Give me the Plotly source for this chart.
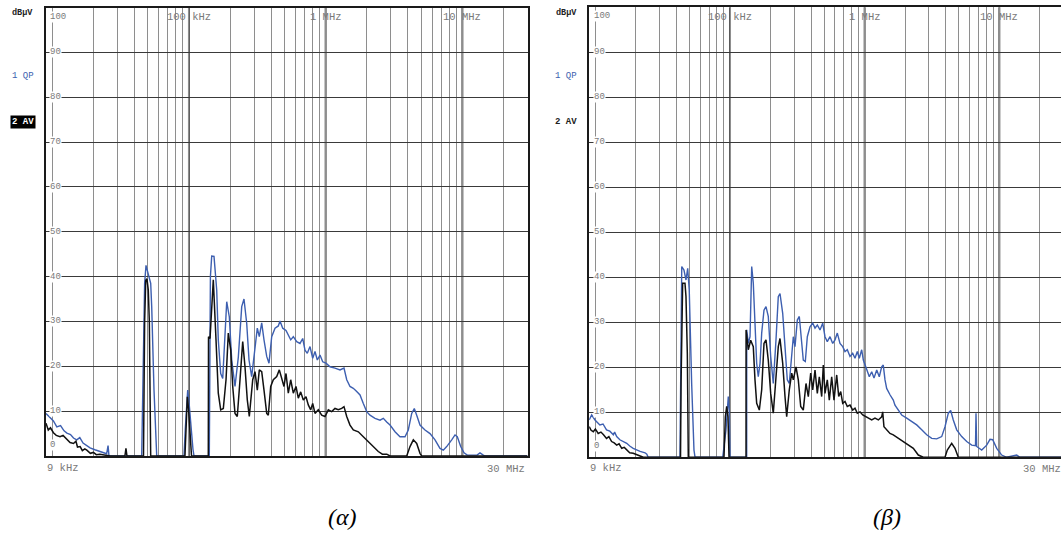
import math
import plotly.graph_objects as go

W, H = 1061, 533

# ---------------- data (frequency in kHz, level in dBuV) ----------------
qp_a_khz = [9.0, 9.3, 9.63, 10.2, 10.8, 11.5, 12.2, 12.8, 13.6, 14.3, 15.1, 15.9, 16.8, 17.8, 18.9, 20.5,
            22.3, 23.6, 25.0, 25.6, 26.0, 45.1, 46.3, 47.4, 48.5, 50.4, 52.5, 53.4, 55.5, 58.1,
            92.0, 94.0, 96.3, 97.9, 100.1, 103.5, 107.0, 108.9,
            140.9, 143.5, 146.7, 152.5, 159.6, 163.9, 170.7, 176.6, 183.5, 188.9, 197.4, 205.5, 217.2,
            229.6, 243.2, 252.7, 264.5, 275.0, 287.7, 304.2, 316.2, 327.1, 340.6, 354.0, 370.5, 385.1,
            403.0, 426.1, 450.5, 463.5, 485.1, 512.7, 533.0, 555.0, 579.9, 614.0, 649.2, 679.3, 706.1,
            734.0, 768.2, 804.0, 835.7, 868.7, 909.1, 951.3, 1006, 1076, 1170, 1273, 1362, 1426, 1507,
            1593, 1687, 1784, 1886, 1996, 2110, 2296, 2498, 2641, 2796, 2957, 3217, 3498, 3806, 4023,
            4261, 4451, 4635, 4900, 5331, 5799, 6310, 6862, 7255, 7682, 8357, 8836, 9183, 9726, 10283,
            10870, 12800, 13460, 14230, 14640, 30000]
qp_a_db = [9.5, 9.0, 8.5, 7.8, 6.5, 6.8, 5.6, 5.1, 4.8, 4.0, 3.6, 4.1, 2.9, 2.4, 1.8, 1.4,
           1.0, 0.7, 0.5, 2.3, 0, 0, 20, 38.5, 42.5, 40.8, 38.5, 33.3, 14.7, 0,
           0, 6, 13.5, 14.7, 12, 6, 1.5, 0,
           0, 40, 44.6, 44.5, 37, 25.9, 18.4, 17.3, 27.4, 34.4, 31, 21.4, 15.5,
           22, 33.3, 35, 29.6, 21.4, 17.7, 23.6, 28.5, 26.6, 29.7, 25.9, 22.2, 20.7,
           26.6, 28.5, 29, 30.1, 28.5, 28, 27, 25.9, 26.6, 25.5, 25.1, 26.2, 23.6,
           22.9, 24.4, 21.8, 23.3, 21.4, 22.5, 21, 20.7, 19.9, 19.6, 19.2, 19.6, 17, 15.5,
           15.1, 14.4, 13.6, 11.7, 9.9, 9.1, 8.4, 8.0, 8.4, 7.6, 6.9, 5.4, 4.3, 4.3, 5.8,
           9.5, 10.6, 9.1, 6.9, 5.8, 5.0, 3.6, 1.7, 1.3, 2.1, 3.6, 4.7, 4.3, 2.1, 0.7,
           0.2, 0.2, 0.7, 0.2, 0, 0]

av_a_khz = [9.0, 9.2, 9.35, 9.7, 10.2, 10.7, 11.4, 12.0, 12.8, 13.5, 14.3, 14.9, 15.3, 16.0, 16.6, 17.3,
            17.9, 19.0, 20.0, 21.0, 22.3, 25.0, 26.5, 34.0, 34.6, 35.2,
            46.5, 47.4, 48.3, 49.3, 50.4, 51.3, 52.0, 52.5,
            93.5, 95.6, 97.3, 99.3, 101.8, 104.4,
            138.5, 139.0, 142.6, 146.7, 150.7, 157.7, 163.9, 170.7, 178.4, 186.7, 194.0, 202.1, 209.0,
            217.2, 225.7, 236.3, 247.3, 257.0, 267.2, 276.4, 292.7, 304.2, 316.2, 327.1, 340.6, 354.0,
            370.5, 380.6, 396.4, 414.1, 438.5, 458.1, 477.1, 495.7, 512.7, 533.0, 555.0, 579.9, 606.8,
            630.9, 656.8, 686.2, 718.2, 746.5, 777.3, 804.0, 835.7, 883.5, 935.3, 989.0, 1046, 1107,
            1170, 1238, 1310, 1362, 1426, 1507, 1593, 1734, 1886, 2051, 2231, 2427, 2600, 2800, 2957,
            3917, 4141, 4378, 4635, 4900, 5043, 30000]
av_a_db = [7.3, 6.2, 5.8, 6.3, 5.2, 4.6, 4.3, 4.6, 3.6, 3.0, 2.8, 3.3, 2.0, 2.1, 1.2, 1.6,
           1.3, 0.6, 0.8, 0.3, 0.4, 0.2, 0, 0, 1.7, 0,
           0, 30, 39.2, 39.5, 37, 30, 10, 0,
           0, 9, 13.2, 10.5, 4, 0,
           0, 26.6, 26.2, 33.3, 39.3, 25.9, 14, 10.3, 10.6, 17, 27.4, 23.6, 15.5,
           9.5, 8.8, 17, 25.5, 19.9, 12.5, 8.8, 17, 18.8, 14.7, 19.2, 18.8, 14.7,
           9.5, 9.1, 15.5, 17, 17.7, 19.2, 17, 15.5, 18.4, 14, 17, 14, 15.5,
           12.9, 14.3, 12.5, 13.2, 11.4, 10.3, 11.7, 9.5, 10.3, 9.1, 8.8, 10.3, 9.9,
           10.6, 10.3, 10.6, 11, 8.8, 6.9, 5.8, 5.4, 4.3, 3.2, 2.1, 1.0, 0.4, 0.4, 0,
           0, 2.1, 3.6, 2.8, 0.6, 0, 0]

qp_b_khz = [9.0, 9.39, 9.94, 10.8, 11.4, 12.1, 12.8, 13.6, 13.9, 14.4, 15.2, 16.0, 17.1, 18.0, 19.1, 21.5,
            23.4, 24.1, 24.7, 42.5, 43.3, 43.8, 45.5, 47.1, 48.5, 49.8, 51.9, 54.0, 55.0,
            88.3, 93.3, 97.1, 98.8, 100.0,
            133.0, 133.1, 136.7, 140.8, 144.9, 148.9, 153.3, 157.8, 162.2, 167.1, 171.9, 178.8, 185.0,
            192.4, 200.5, 209.6, 219.5, 228.3, 235.1, 246.2, 256.1, 266.3, 275.6, 287.2, 295.2, 303.9,
            316.1, 327.1, 340.8, 350.1, 362.4, 375.1, 392.8, 411.3, 427.8, 445.0, 465.9, 488.0, 507.5,
            527.9, 552.9, 579.0, 602.2, 626.4, 655.9, 687.0, 714.6, 743.1, 778.2, 815.0, 847.7, 881.7,
            912.6, 950.4, 977.4, 1006, 1036, 1083, 1128, 1173, 1229, 1284, 1338, 1375, 1416, 1457, 1542,
            1632, 1679, 1747, 1884, 2052, 2237, 2435, 2653, 2890, 3147, 3428, 3734, 3951, 4181, 4355,
            4552, 4826, 5256, 5727, 6237, 6656, 6712, 6793, 7400, 8060, 8528, 8932, 9568, 10420, 11350,
            13460, 14240, 30000]
qp_b_db = [8.3, 9.4, 8.3, 7.2, 7.4, 6.1, 5.8, 5.0, 5.6, 4.6, 3.9, 3.6, 3.1, 2.5, 2.0, 1.3,
           1.0, 0.7, 0, 0, 30, 42.4, 41.6, 39.4, 42, 37.2, 16.4, 1.6, 0,
           0, 6, 13.5, 10, 0,
           0, 28.3, 25.3, 26.8, 42.4, 38.7, 29.8, 20.9, 17.9, 20.9, 27.6, 32.7, 33.5,
           31.3, 22.4, 16.4, 26.1, 35.7, 36.4, 32, 24.6, 17.2, 16.4, 23.1, 26.8, 24.6,
           30.5, 31.3, 26.1, 21.6, 21.3, 26.8, 29, 29.8, 28.7, 29.4, 28.3, 29.8, 26.8,
           25.7, 26.8, 25.3, 26.1, 27.6, 25.3, 24.6, 23.5, 23.9, 22.4, 23.1, 22, 23.5,
           22, 23.9, 21.6, 20.5, 19.4, 17.9, 19, 17.6, 19.4, 17.9, 20.1, 20.5, 17.2, 15.3, 13.9,
           12.7, 11.6, 10.9, 9.4, 8.7, 7.9, 7.2, 6.1, 5.0, 4.2, 4.1, 4.6, 6.8, 9.8, 10.4,
           8.3, 6.1, 4.6, 3.5, 2.7, 2.6, 9.8, 2.4, 1.6, 2.7, 4.0, 3.9, 2.0, 0.5, 0,
           0.5, 0, 0]

av_b_khz = [9.0, 9.3, 9.65, 10.0, 10.5, 11.0, 11.5, 12.1, 12.6, 13.2, 13.8, 14.4, 15.0, 15.7, 16.4, 17.1,
            18.0, 19.1, 20.3, 21.5, 22.7, 42.9, 43.3, 44.5, 46.3, 47.1, 48.2, 49.0,
            90.2, 92.3, 94.5, 96.6, 98.3,
            131.5, 131.6, 136.7, 142.4, 148.9, 153.3, 157.8, 165.1, 171.9, 178.8, 185.0, 192.4, 200.5,
            209.6, 219.5, 228.3, 235.1, 246.2, 256.1, 263.6, 275.6, 287.2, 295.2, 309.1, 321.5, 335.0,
            350.1, 366.7, 381.5, 397.4, 411.3, 427.8, 445.0, 460.4, 479.7, 493.0, 507.5, 527.9, 546.2,
            569.0, 591.9, 619.9, 641.6, 663.9, 687.0, 714.6, 743.1, 778.2, 815.0, 847.7, 881.7, 923.5,
            967.5, 1006, 1064, 1128, 1193, 1263, 1338, 1361, 1391, 1457, 1542, 1632, 1778, 1936, 2110,
            2298, 2502, 2726, 3951, 4108, 4429, 4686, 4959, 30000]
av_b_db = [6.8, 6.0, 5.7, 6.3, 5.3, 5.6, 5.0, 4.2, 4.6, 3.5, 3.2, 2.7, 3.0, 2.0, 2.2, 1.6,
           1.0, 0.9, 0.5, 0.3, 0, 0, 16.4, 38.7, 38.7, 35.7, 23, 0,
           0, 9, 11.3, 9, 0,
           0, 28.3, 23.9, 26, 24.6, 17.2, 12, 10.5, 15, 25.3, 26.1, 21.6, 14.2,
           9.8, 17.2, 24.6, 26.4, 20.9, 13.5, 9, 15, 18.7, 17.2, 20.1, 17.2, 11.3,
           10.5, 16.4, 13.5, 18.7, 15, 19.4, 14.2, 17.9, 13.5, 20.5, 14.2, 17.2, 12.7,
           17.9, 12.7, 18.3, 13.5, 14.6, 12, 12.4, 11.3, 11.6, 10.5, 10.9, 9.8, 10.1,
           9.4, 9.1, 8.7, 8.3, 8.7, 8.3, 9.0, 10.1, 6.8, 6.1, 5.3, 5.0, 4.2, 3.5, 2.7,
           2.0, 0.5, 0, 0, 1.6, 3.1, 2.0, 0, 0]

y_ticks = [0, 10, 20, 30, 40, 50, 60, 70, 80, 90, 100]
y_tick_text = ["0", "10", "20", "30", "40", "50", "60", "70", "80", "90", "100"]
decade_khz = [100, 1000, 10000]
decade_text = ["100 kHz", "1 MHz", "10 MHz"]
f_start_khz, f_stop_khz = 9, 30000
trace_labels = ["1 QP", "2 AV"]
captions = ["(α)", "(β)"]

# ---------------- styling / layout ----------------
BLUE = "#3d5fb0"
BLACK = "#111111"
GRIDX = "#8e8e8e"
GRIDY = "#3a3a3a"
LBL = "#7a7a7a"
MONO = "Liberation Mono, DejaVu Sans Mono, monospace"


def px(x):
    return x / W


def py(y):
    return 1 - y / H


grid_khz = [m * 10 ** e for e in range(1, 5) for m in range(1, 10) if m * 10 ** e <= f_stop_khz]

panels = [
    dict(x0=46.0, ppd=136.7, y0=456.0, y100=7.5, lx=22.5, sfx="", xa="x", ya="y"),
    dict(x0=589.2, ppd=134.65, y0=457.3, y100=7.3, lx=566.0, sfx="2", xa="x2", ya="y2"),
]

fig = go.Figure()
datasets = [(qp_a_khz, qp_a_db, av_a_khz, av_a_db), (qp_b_khz, qp_b_db, av_b_khz, av_b_db)]

layout = dict(width=W, height=H, margin=dict(l=0, r=0, t=0, b=0), paper_bgcolor="white",
              plot_bgcolor="rgba(0,0,0,0)", showlegend=False)
shapes = []
annotations = []

for i, (p, d) in enumerate(zip(panels, datasets)):
    qx, qy, ax_, ay_ = d
    fig.add_trace(go.Scatter(x=qx, y=qy, mode="lines", xaxis=p["xa"], yaxis=p["ya"],
                             line=dict(color=BLUE, width=1.4), hoverinfo="skip"))
    fig.add_trace(go.Scatter(x=ax_, y=ay_, mode="lines", xaxis=p["xa"], yaxis=p["ya"],
                             line=dict(color=BLACK, width=1.5), hoverinfo="skip"))
    x_right_px = p["x0"] + p["ppd"] * math.log10(f_stop_khz / f_start_khz)
    full = x_right_px < W
    if not full:
        x_right_px = W
    lo = math.log10(f_start_khz)
    hi = lo + (x_right_px - p["x0"]) / p["ppd"]
    layout["xaxis" + p["sfx"]] = dict(type="log", range=[lo, hi], domain=[px(p["x0"]), px(x_right_px)],
                                      anchor=p["ya"], tickvals=grid_khz, showticklabels=False, ticks="",
                                      showgrid=True, gridcolor=GRIDX, gridwidth=1, zeroline=False,
                                      showline=True, linecolor="#1a1a1a", linewidth=2, mirror=True,
                                      fixedrange=True)
    layout["yaxis" + p["sfx"]] = dict(range=[0, 100], domain=[py(p["y0"]), py(p["y100"])],
                                      anchor=p["xa"], tickvals=y_ticks, showticklabels=False, ticks="",
                                      showgrid=True, gridcolor=GRIDY, gridwidth=1, zeroline=False,
                                      showline=True, linecolor="#1a1a1a", linewidth=2,
                                      mirror=True if full else False, fixedrange=True)
    # darker decade lines
    for f in decade_khz:
        shapes.append(dict(type="line", xref=p["xa"], yref="paper", x0=f, x1=f,
                           y0=py(p["y0"]), y1=py(p["y100"]),
                           line=dict(color="#5a5a5a", width=2), layer="below"))
    # level labels along the 10 kHz line
    for v, t in zip(y_ticks, y_tick_text):
        yy = v
        yanchor = "middle"
        if v == 100:
            yy, yanchor = 99.3, "top"
        if v == 0:
            yy, yanchor = 1.2, "bottom"
        annotations.append(dict(text=t, x=px(p["x0"] + 3.3), xref="paper", xanchor="left",
                                y=yy, yref=p["ya"], yanchor=yanchor, showarrow=False,
                                font=dict(family=MONO, size=9, color=LBL),
                                bgcolor="white", borderpad=0))
    # decade labels at the top
    for f, t in zip(decade_khz, decade_text):
        annotations.append(dict(text=t, x=math.log10(f), xref=p["xa"], xanchor="center",
                                y=py(17), yref="paper", yanchor="middle", showarrow=False,
                                font=dict(family=MONO, size=10.5, color=LBL)))
    # start / stop labels
    annotations.append(dict(text="9 kHz", x=px(p["x0"] - 1), xref="paper", xanchor="left",
                            y=py(468), yref="paper", yanchor="middle", showarrow=False,
                            font=dict(family=MONO, size=10.5, color=LBL)))
    stop_x = p["x0"] + p["ppd"] * math.log10(f_stop_khz / f_start_khz) - 1
    annotations.append(dict(text="30 MHz", x=px(stop_x), xref="paper", xanchor="right",
                            y=py(469), yref="paper", yanchor="middle", showarrow=False,
                            font=dict(family=MONO, size=10.5, color=LBL)))
    # left side texts
    annotations.append(dict(text="<b>dBµV</b>", x=px(p["lx"]), xref="paper", xanchor="center",
                            y=py(13), yref="paper", yanchor="middle", showarrow=False,
                            font=dict(family=MONO, size=8.5, color="#222")))
    annotations.append(dict(text=trace_labels[0], x=px(p["lx"]), xref="paper", xanchor="center",
                            y=py(76), yref="paper", yanchor="middle", showarrow=False,
                            font=dict(family=MONO, size=9, color=BLUE)))
    if i == 0:
        annotations.append(dict(text="<b>" + trace_labels[1] + "</b>", x=px(p["lx"]),
                                xref="paper", xanchor="center", y=py(122), yref="paper",
                                yanchor="middle", showarrow=False,
                                font=dict(family=MONO, size=9, color="white"),
                                bgcolor="black", borderpad=1))
    else:
        annotations.append(dict(text="<b>" + trace_labels[1] + "</b>", x=px(p["lx"]),
                                xref="paper", xanchor="center", y=py(122), yref="paper",
                                yanchor="middle", showarrow=False,
                                font=dict(family=MONO, size=9, color="#222")))

# captions
for cx, t in zip([342, 887], captions):
    annotations.append(dict(text="<i>" + t + "</i>", x=px(cx), xref="paper", xanchor="center",
                            y=py(517), yref="paper", yanchor="middle", showarrow=False,
                            font=dict(family="Liberation Serif, Times New Roman, serif", size=24,
                                      color="black")))

layout["shapes"] = shapes
layout["annotations"] = annotations
fig.update_layout(**layout)
fig.write_html("out.html")
